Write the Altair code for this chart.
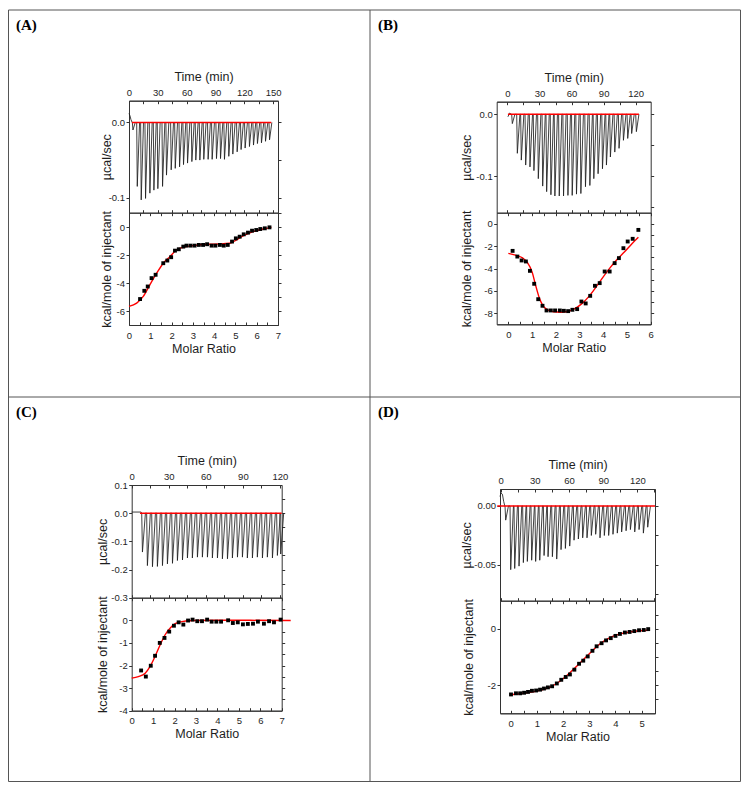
import altair as alt
import pandas as pd

# ---------------- data ----------------
# Panel A - raw heat (time in min, peak in ucal/sec)
a_pre_t = [0.0, 1.0, 2.0, 3.3]
a_pre_v = [0.012, 0.009, 0.004, 0.0]
a_times = [3.5, 8.0, 12.1, 16.6, 21.1, 25.3, 29.4, 34.3, 38.4, 43.3, 47.5, 52.0, 56.1,
           60.3, 64.8, 68.9, 73.1, 77.2, 81.7, 85.9, 90.4, 94.6, 98.7, 103.2, 107.4,
           111.9, 116.0, 120.2, 124.7, 128.9, 133.0, 137.2, 141.4, 145.6]
a_peaks = [-0.01, -0.085, -0.103, -0.101, -0.094, -0.09, -0.088, -0.085, -0.07, -0.063,
           -0.061, -0.059, -0.056, -0.054, -0.052, -0.05, -0.05, -0.049, -0.049, -0.049,
           -0.048, -0.048, -0.049, -0.045, -0.042, -0.039, -0.036, -0.034, -0.032, -0.03,
           -0.028, -0.027, -0.025, -0.023]
a_base_t = [3.0, 148.0]
# Panel A - integrated heats
a_mr = [0.52, 0.72, 0.88, 1.06, 1.25, 1.61, 1.80, 1.98, 2.16, 2.34, 2.55, 2.70, 2.89,
        3.08, 3.28, 3.48, 3.67, 3.88, 4.06, 4.27, 4.45, 4.64, 4.84, 5.02, 5.20, 5.39,
        5.59, 5.78, 5.98, 6.17, 6.38, 6.60]
a_kcal = [-5.14, -4.55, -4.24, -3.64, -3.40, -2.57, -2.38, -2.14, -1.67, -1.57, -1.38,
          -1.31, -1.31, -1.31, -1.26, -1.26, -1.21, -1.31, -1.31, -1.26, -1.31, -1.26,
          -1.02, -0.79, -0.67, -0.50, -0.38, -0.24, -0.19, -0.12, -0.07, 0.0]
a_fit_x = [0.0, 0.36, 0.67, 0.98, 1.3, 1.61, 1.92, 2.23, 2.55, 3.0, 3.64, 4.27, 4.73,
           5.05, 5.36, 5.83, 6.3, 6.69]
a_fit_y = [-5.67, -5.43, -4.95, -4.12, -3.29, -2.57, -2.1, -1.62, -1.43, -1.31, -1.21,
           -1.19, -1.14, -0.9, -0.62, -0.31, -0.12, 0.0]

# Panel B
b_pre_t = [0.5, 2.0, 3.8]
b_pre_v = [-0.004, 0.002, 0.0]
b_times = [4.0, 8.7, 12.4, 16.5, 20.5, 24.2, 28.3, 32.4, 36.1, 40.1, 43.8, 47.9, 51.9,
           56.0, 60.0, 64.0, 68.1, 72.4, 76.5, 80.2, 84.2, 88.3, 92.0, 95.7, 99.8, 103.8,
           107.9, 111.9, 115.6, 120.0]
b_peaks = [-0.015, -0.063, -0.074, -0.082, -0.085, -0.091, -0.104, -0.116, -0.125, -0.13,
           -0.132, -0.132, -0.132, -0.131, -0.131, -0.129, -0.128, -0.117, -0.115, -0.104,
           -0.096, -0.088, -0.082, -0.069, -0.061, -0.055, -0.042, -0.039, -0.031, -0.028]
b_base_t = [0.5, 123.0]
b_mr = [0.18, 0.38, 0.56, 0.74, 0.91, 1.09, 1.26, 1.44, 1.61, 1.79, 1.97, 2.17, 2.34,
        2.52, 2.70, 2.90, 3.08, 3.26, 3.45, 3.65, 3.85, 4.06, 4.27, 4.48, 4.66, 4.85,
        5.03, 5.24, 5.48]
b_kcal = [-2.42, -2.93, -3.28, -3.37, -4.21, -5.37, -6.75, -7.34, -7.76, -7.76, -7.76,
          -7.76, -7.79, -7.82, -7.70, -7.64, -6.96, -7.13, -6.45, -5.55, -5.31, -4.27,
          -4.27, -3.52, -3.07, -2.18, -1.58, -1.34, -0.54]
b_fit_x = [0.0, 0.3, 0.6, 0.8, 1.0, 1.15, 1.3, 1.45, 1.65, 1.9, 2.2, 2.5, 2.8, 3.1, 3.4,
           3.7, 4.0, 4.3, 4.6, 4.9, 5.2, 5.48]
b_fit_y = [-2.65, -2.8, -3.05, -3.45, -4.3, -5.5, -6.6, -7.3, -7.7, -7.88, -7.92, -7.85,
           -7.6, -7.15, -6.5, -5.65, -4.75, -3.9, -3.15, -2.5, -1.8, -1.2]

# Panel C
c_pre_t = [0.0, 7.6]
c_pre_v = [0.004, 0.004]
c_times = [8.1, 12.1, 16.2, 20.2, 24.3, 28.3, 32.4, 36.4, 40.5, 44.5, 48.5, 52.6, 56.6,
           60.7, 64.7, 68.8, 72.8, 76.9, 80.9, 85.0, 89.0, 93.0, 97.1, 101.1, 105.2,
           109.2, 113.3, 117.3, 120.0]
c_peaks = [-0.138, -0.186, -0.19, -0.189, -0.186, -0.18, -0.178, -0.168, -0.166, -0.159,
           -0.159, -0.156, -0.156, -0.156, -0.159, -0.159, -0.162, -0.162, -0.159, -0.156,
           -0.156, -0.159, -0.159, -0.156, -0.159, -0.156, -0.159, -0.15, -0.145]
c_base_t = [6.7, 121.4]
c_mr = [0.44, 0.66, 0.89, 1.09, 1.31, 1.53, 1.75, 1.97, 2.19, 2.41, 2.63, 2.84, 3.06,
        3.28, 3.52, 3.73, 3.95, 4.17, 4.50, 4.72, 4.95, 5.19, 5.42, 5.66, 5.89, 6.17,
        6.41, 6.64, 6.95]
c_kcal = [-2.22, -2.49, -2.01, -1.57, -1.0, -0.78, -0.5, -0.24, -0.09, -0.19, -0.01, 0.03,
          -0.04, -0.04, 0.03, -0.06, -0.06, -0.06, 0.0, -0.12, -0.09, -0.18, -0.16, -0.15,
          -0.06, -0.15, -0.04, -0.09, 0.03]
c_fit_x = [0.0, 0.31, 0.63, 0.86, 1.09, 1.33, 1.56, 1.8, 2.03, 2.34, 2.89, 4.0, 5.55, 7.42]
c_fit_y = [-2.56, -2.49, -2.34, -2.04, -1.6, -1.08, -0.64, -0.34, -0.15, -0.06, -0.01,
           0.0, 0.0, -0.01]

# Panel D
d_pre_t = [-0.6, 0.3, 1.5, 2.6, 3.6]
d_pre_v = [0.008, 0.011, 0.010, 0.004, 0.0]
d_times = [3.8, 8.2, 11.7, 15.5, 19.3, 22.8, 26.6, 30.1, 33.7, 37.5, 41.0, 44.8, 48.6,
           52.4, 56.2, 60.0, 63.8, 67.6, 71.4, 75.2, 79.0, 82.8, 86.6, 90.4, 94.2, 98.0,
           101.8, 105.6, 109.5, 113.3, 117.1, 120.9, 124.7, 128.5]
d_peaks = [-0.012, -0.054, -0.053, -0.051, -0.048, -0.047, -0.046, -0.047, -0.046, -0.042,
           -0.043, -0.043, -0.045, -0.037, -0.036, -0.034, -0.029, -0.028, -0.027, -0.027,
           -0.025, -0.024, -0.027, -0.025, -0.025, -0.024, -0.023, -0.022, -0.021, -0.020,
           -0.022, -0.020, -0.023, -0.018]
d_base_t = [-3.0, 135.5]
d_mr = [0.01, 0.2, 0.36, 0.51, 0.66, 0.81, 0.97, 1.12, 1.27, 1.42, 1.58, 1.76, 1.93, 2.1,
        2.26, 2.43, 2.61, 2.77, 2.94, 3.12, 3.28, 3.47, 3.64, 3.82, 4.0, 4.17, 4.36, 4.54,
        4.72, 4.9, 5.08, 5.25]
d_kcal = [-2.33, -2.29, -2.29, -2.27, -2.24, -2.2, -2.19, -2.16, -2.12, -2.08, -2.04,
          -1.94, -1.81, -1.71, -1.62, -1.45, -1.24, -1.13, -0.98, -0.78, -0.62, -0.51,
          -0.41, -0.33, -0.25, -0.18, -0.13, -0.11, -0.08, -0.05, -0.04, -0.01]
d_fit_x = [0.0, 0.48, 0.99, 1.5, 1.88, 2.26, 2.65, 3.03, 3.41, 3.79, 4.17, 4.55, 4.94, 5.25]
d_fit_y = [-2.34, -2.29, -2.21, -2.07, -1.86, -1.56, -1.21, -0.86, -0.53, -0.31, -0.18,
           -0.11, -0.07, -0.05]

panel_labels = ["(A)", "(B)", "(C)", "(D)"]

# ---------------- layout / styling ----------------
W, H = 734, 775
FONT = "Liberation Sans"
TXT = "#1e1e1e"
LINE = "#333333"
MINUS = "replace(datum.label, '\u2212', '-')"


def thermo(pre_t, pre_v, times, peaks):
    rows = list(zip(pre_t, pre_v))
    for t, d in zip(times, peaks):
        rows += [(t, 0.0), (t + 0.6, d), (t + 3.0, 0.0)]
    df = pd.DataFrame(rows, columns=["t", "v"])
    df["o"] = range(len(df))
    return df


def xs(dom, x0, x1):
    return alt.Scale(domain=dom, range=[x0 - 8, x1 - 8], nice=False, zero=False)


def ys(dom, top, bot):
    return alt.Scale(domain=dom, range=[bot - 8, top - 8], nice=False, zero=False)


def ax_top_lab(vals, yedge, title):
    return alt.Axis(orient="top", offset=-(yedge - 8), values=vals, ticks=False,
                    labelPadding=3.5, labelFlush=False, labelOverlap=False, format="d",
                    title=title, titleY=-20.5, titleBaseline="alphabetic")


def ax_bot_lab(vals, yedge, title):
    return alt.Axis(orient="bottom", offset=(yedge - 8) - H, values=vals, ticks=False,
                    labelPadding=5, labelFlush=False, labelOverlap=False, format="d",
                    title=title, titleY=17, titleBaseline="top")


def ax_in_top(vals, yedge):
    return alt.Axis(orient="bottom", offset=(yedge - 8) - H, values=vals, labels=False,
                    title=None, tickSize=3)


def ax_in_bot(vals, yedge):
    return alt.Axis(orient="top", offset=-(yedge - 8), values=vals, labels=False,
                    title=None, tickSize=3)


def ax_left(vals, xedge, title, fmt, tx):
    return alt.Axis(orient="left", offset=-(xedge - 8), values=vals, tickSize=3,
                    labelPadding=1.5, labelOverlap=False, labelFlush=False, format=fmt,
                    labelExpr=MINUS, title=title, titleX=tx, titleBaseline="bottom")


def ax_right(vals, xedge):
    return alt.Axis(orient="right", offset=(xedge - 8) - W, values=vals, labels=False,
                    title=None, tickSize=3)


def top_plot(raw, base_t, x0, x1, yt, yb, xdom, ydom, xt, xm, yt_vals, yr, fmt, tx):
    sx, sy = xs(xdom, x0, x1), ys(ydom, yt, yb)
    base = pd.DataFrame({"t": base_t, "v": [0.0] * len(base_t)})
    l1 = alt.Chart(raw).mark_line(color="#1f1f1f", strokeWidth=0.85).encode(
        x=alt.X("t:Q", scale=sx, axis=ax_top_lab(xt, yt, "Time (min)")),
        y=alt.Y("v:Q", scale=sy, axis=ax_left(yt_vals, x0, "µcal/sec", fmt, tx)),
        order="o:Q")
    l2 = alt.Chart(base).mark_line(color="#ff0000", strokeWidth=1.4).encode(
        x=alt.X("t:Q", scale=sx, axis=ax_in_top(xm, yt)),
        y=alt.Y("v:Q", scale=sy, axis=ax_right(yr, x1)))
    l3 = alt.Chart(base).mark_line(opacity=0).encode(
        x=alt.X("t:Q", scale=sx, axis=ax_in_bot(xm, yb)),
        y=alt.Y("v:Q", scale=sy, axis=None))
    return [l1, l2, l3]


def bottom_plot(mr, kcal, fx, fy, x0, x1, yt, yb, xdom, ydom, xt, xm, yt_vals, yr, tx):
    sx, sy = xs(xdom, x0, x1), ys(ydom, yt, yb)
    pts = pd.DataFrame({"m": mr, "k": kcal})
    fit = pd.DataFrame({"m": fx, "k": fy})
    l1 = alt.Chart(fit).mark_line(color="#ff0000", strokeWidth=1.4,
                                  interpolate="monotone").encode(
        x=alt.X("m:Q", scale=sx, axis=ax_bot_lab(xt, yb, "Molar Ratio")),
        y=alt.Y("k:Q", scale=sy,
                axis=ax_left(yt_vals, x0, "kcal/mole of injectant", "d", tx)))
    l2 = alt.Chart(pts).mark_square(size=15, color="black", opacity=1).encode(
        x=alt.X("m:Q", scale=sx, axis=ax_in_top(xm, yt)),
        y=alt.Y("k:Q", scale=sy, axis=ax_right(yr, x1)))
    l3 = alt.Chart(pts).mark_point(opacity=0).encode(
        x=alt.X("m:Q", scale=sx, axis=ax_in_bot(xm, yb)),
        y=alt.Y("k:Q", scale=sy, axis=None))
    return [l1, l2, l3]


t30 = [0, 30, 60, 90, 120]
t15 = [0, 15, 30, 45, 60, 75, 90, 105, 120]

layers = []
# A
layers += top_plot(thermo(a_pre_t, a_pre_v, a_times, a_peaks), a_base_t,
                   129, 278, 100.7, 212.7, [0, 155], [-0.12, 0.029],
                   [0, 30, 60, 90, 120, 150], t15 + [135, 150],
                   [-0.1, 0.0], [-0.1, -0.05, 0.0], ".1f", -16)
layers += bottom_plot(a_mr, a_kcal, a_fit_x, a_fit_y, 129, 278, 212.7, 325,
                      [0, 7], [-7, 1.05], [0, 1, 2, 3, 4, 5, 6, 7],
                      [0, 0.5, 1, 1.5, 2, 2.5, 3, 3.5, 4, 4.5, 5, 5.5, 6, 6.5, 7],
                      [-6, -4, -2, 0], [-6, -5, -4, -3, -2, -1, 0, 1], -16)
# B
layers += top_plot(thermo(b_pre_t, b_pre_v, b_times, b_peaks), b_base_t,
                   496.7, 650.7, 101.7, 212.7, [-10, 134], [-0.159, 0.0204],
                   t30, t15, [-0.1, 0.0], [-0.15, -0.1, -0.05, 0.0], ".1f", -23.5)
layers += bottom_plot(b_mr, b_kcal, b_fit_x, b_fit_y, 496.7, 650.7, 212.7, 324.3,
                      [-0.49, 6], [-9, 1], [0, 1, 2, 3, 4, 5, 6],
                      [0, 0.5, 1, 1.5, 2, 2.5, 3, 3.5, 4, 4.5, 5, 5.5, 6],
                      [-8, -6, -4, -2, 0], [-8, -7, -6, -5, -4, -3, -2, -1, 0], -23.5)
# C
layers += top_plot(thermo(c_pre_t, c_pre_v, c_times, c_peaks), c_base_t,
                   131.7, 281.7, 485, 597.7, [0, 121.4], [-0.3, 0.1],
                   t30, t15, [-0.3, -0.2, -0.1, 0.0, 0.1],
                   [-0.25, -0.2, -0.15, -0.1, -0.05, 0.0, 0.05], ".1f", -22.5)
layers += bottom_plot(c_mr, c_kcal, c_fit_x, c_fit_y, 131.7, 281.7, 597.7, 710.7,
                      [0, 7], [-4, 1], [0, 1, 2, 3, 4, 5, 6, 7],
                      [0, 0.5, 1, 1.5, 2, 2.5, 3, 3.5, 4, 4.5, 5, 5.5, 6, 6.5, 7],
                      [-4, -3, -2, -1, 0], [-3.5, -3, -2.5, -2, -1.5, -1, -0.5, 0, 0.5],
                      -22.5)
# D
layers += top_plot(thermo(d_pre_t, d_pre_v, d_times, d_peaks), d_base_t,
                   500, 655, 489, 600.7, [-0.6, 135.5], [-0.0803, 0.0144],
                   t30, t15 + [135], [-0.05, 0.0], [-0.075, -0.05, -0.025, 0.0], ".2f",
                   -27)
layers += bottom_plot(d_mr, d_kcal, d_fit_x, d_fit_y, 500, 655, 600.7, 713.3,
                      [-0.41, 5.51], [-3, 1], [0, 1, 2, 3, 4, 5],
                      [0, 0.5, 1, 1.5, 2, 2.5, 3, 3.5, 4, 4.5, 5, 5.5],
                      [-2, 0], [-2.5, -2, -1.5, -1, -0.5, 0, 0.5], -25)

# ---------------- outer table frame & panel letters ----------------
one = pd.DataFrame({"d": [0]})
frame_color = "#555555"
vrules = [(0.5, 2, 773.5), (732.5, 2, 773.5), (362, 2, 773.5)]
hrules = [(2, 0.5, 732.5), (773.5, 0.5, 732.5), (389, 0.5, 732.5)]
for x, y1, y2 in vrules:
    layers.append(alt.Chart(one).mark_rule(color=frame_color, strokeWidth=1).encode(
        x=alt.value(x), y=alt.value(y1), y2=alt.value(y2)))
for y, x1, x2 in hrules:
    layers.append(alt.Chart(one).mark_rule(color=frame_color, strokeWidth=1).encode(
        y=alt.value(y), x=alt.value(x1), x2=alt.value(x2)))
label_pos = [(8, 22), (370, 22), (8, 409), (370, 409)]
for lab, (x, y) in zip(panel_labels, label_pos):
    layers.append(alt.Chart(one).mark_text(
        text=lab, font="Liberation Serif", fontWeight="bold", fontSize=15,
        align="left", baseline="alphabetic", color="black").encode(
        x=alt.value(x), y=alt.value(y)))

chart = alt.layer(*layers).resolve_scale(
    x="independent", y="independent"
).resolve_axis(
    x="independent", y="independent"
).properties(
    width=W, height=H, padding=0, autosize=alt.AutoSizeParams(type="none")
).configure_axis(
    grid=False, labelFont=FONT, titleFont=FONT, labelFontSize=9.5, titleFontSize=12.5,
    labelColor=TXT, titleColor=TXT, titleFontWeight="normal", domainColor=LINE,
    tickColor=LINE, domainWidth=1, tickWidth=1
).configure_view(stroke=None)

chart.save("out.html", embed_options={"renderer": "svg", "actions": False})
